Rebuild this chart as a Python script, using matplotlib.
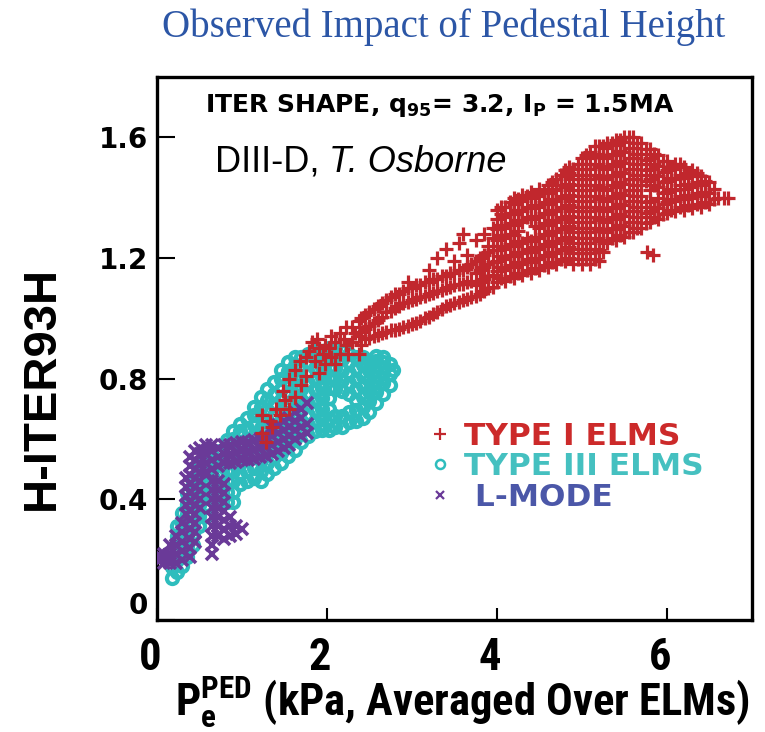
import numpy as np
import matplotlib
matplotlib.use('Agg')
import matplotlib.pyplot as plt
import matplotlib.transforms as mtransforms
from matplotlib.lines import Line2D
from matplotlib import font_manager as fm

# values: (pedestal pressure kPa, [H-factor values])
type1_cols = [
    # low end of the type I branch, mixed in with type III
    (1.24, [0.62, 0.68]), (1.28, [0.59]), (1.33, [0.66]), (1.36, [0.64]),
    (1.40, [0.70]), (1.45, [0.68]), (1.48, [0.76]), (1.51, [0.73]),
    (1.55, [0.70]), (1.56, [0.80]), (1.63, [0.74, 0.83]), (1.68, [0.86]),
    (1.70, [0.78]), (1.75, [0.81, 0.87]), (1.79, [0.89]), (1.83, [0.92]),
    (1.86, [0.86]), (1.88, [0.93]), (1.91, [0.82, 0.90]), (1.95, [0.88]),
    (1.98, [0.85, 0.91]), (2.02, [0.90]), (2.05, [0.87, 0.94]),
    (2.10, [0.85, 0.92]), (2.15, [0.88, 0.95]), (2.20, [0.93]),
    (2.22, [0.91, 0.97]), (2.25, [0.88]), (2.30, [0.92, 0.97]),
    (2.33, [0.95]), (2.38, [0.88, 0.94, 0.99]),
    # two strands
    (2.40, [0.91, 0.955, 1.00]), (2.45, [0.93, 0.965, 1.01]),
    (2.50, [0.935, 0.975, 1.02]), (2.55, [0.94, 0.985, 1.03]),
    (2.60, [0.945, 0.995, 1.04]), (2.65, [0.95, 1.005, 1.05]),
    (2.70, [0.955, 1.02, 1.06]), (2.75, [0.96, 1.025, 1.07]),
    (2.80, [0.96, 1.035, 1.08]), (2.85, [0.965, 1.04, 1.08]),
    (2.90, [0.97, 1.05, 1.09]), (2.95, [0.975, 1.055, 1.10, 1.12]),
    (3.00, [0.98, 1.06, 1.10]), (3.05, [0.985, 1.065, 1.11]),
    (3.10, [0.99, 1.07, 1.11]), (3.15, [1.00, 1.075, 1.12]),
    (3.20, [1.005, 1.08, 1.12, 1.16]), (3.25, [1.015, 1.085, 1.13]),
    (3.30, [1.02, 1.09, 1.13, 1.20]), (3.35, [1.03, 1.095, 1.14]),
    (3.40, [1.04, 1.10, 1.14, 1.23]), (3.45, [1.045, 1.105, 1.15]),
    (3.50, [1.05, 1.11, 1.15, 1.19]), (3.55, [1.055, 1.115, 1.16, 1.25]),
    (3.60, [1.06, 1.115, 1.16, 1.28]), (3.65, [1.065, 1.12, 1.17, 1.21]),
    (3.70, [1.07, 1.125, 1.18]), (3.75, [1.075, 1.11, 1.15, 1.19, 1.26]),
    (3.80, [1.08, 1.12, 1.16, 1.20]), (3.85, [1.09, 1.13, 1.17, 1.21, 1.28]),
    (3.90, [1.10, 1.14, 1.18, 1.22, 1.24]),
    (3.95, [1.105, 1.145, 1.185, 1.225, 1.265, 1.30]),
    # main cloud
    (4.00, [1.12, 1.155, 1.19, 1.225, 1.26, 1.295, 1.33, 1.36]),
    (4.05, [1.135, 1.17, 1.205, 1.24, 1.275, 1.31, 1.345, 1.37]),
    (4.10, [1.125, 1.16, 1.195, 1.23, 1.265, 1.30, 1.335, 1.37]),
    (4.15, [1.14, 1.175, 1.21, 1.245, 1.28, 1.315, 1.35, 1.385]),
    (4.20, [1.135, 1.17, 1.205, 1.24, 1.275, 1.31, 1.345, 1.38, 1.40]),
    (4.25, [1.15, 1.185, 1.22, 1.255, 1.29, 1.325, 1.36, 1.395]),
    (4.30, [1.145, 1.18, 1.215, 1.25, 1.32, 1.355, 1.39, 1.41]),
    (4.35, [1.16, 1.195, 1.23, 1.265, 1.335, 1.37, 1.405]),
    (4.40, [1.15, 1.185, 1.22, 1.255, 1.33, 1.365, 1.40, 1.42]),
    (4.45, [1.165, 1.20, 1.235, 1.27, 1.305, 1.34, 1.375, 1.41]),
    (4.50, [1.16, 1.195, 1.23, 1.265, 1.30, 1.335, 1.37, 1.405, 1.43]),
    (4.55, [1.175, 1.21, 1.245, 1.28, 1.315, 1.35, 1.385, 1.42]),
    (4.60, [1.17, 1.205, 1.24, 1.275, 1.31, 1.345, 1.38, 1.415, 1.44]),
    (4.65, [1.185, 1.22, 1.255, 1.29, 1.325, 1.36, 1.395, 1.43, 1.45]),
    (4.70, [1.18, 1.215, 1.25, 1.285, 1.32, 1.355, 1.39, 1.425, 1.46]),
    (4.75, [1.195, 1.23, 1.265, 1.30, 1.335, 1.37, 1.405, 1.44, 1.475]),
    (4.80, [1.19, 1.225, 1.26, 1.295, 1.33, 1.365, 1.40, 1.435, 1.47, 1.49]),
    (4.85, [1.20, 1.235, 1.27, 1.305, 1.34, 1.375, 1.41, 1.445, 1.48, 1.50]),
    (4.90, [1.18, 1.215, 1.25, 1.285, 1.32, 1.355, 1.39, 1.425, 1.46, 1.495]),
    (4.95, [1.195, 1.23, 1.265, 1.30, 1.335, 1.37, 1.405, 1.44, 1.475, 1.51]),
    (5.00, [1.18, 1.215, 1.25, 1.285, 1.32, 1.355, 1.39, 1.425, 1.46, 1.495, 1.53]),
    (5.05, [1.195, 1.23, 1.265, 1.30, 1.335, 1.37, 1.405, 1.44, 1.475, 1.51, 1.54]),
    (5.10, [1.18, 1.215, 1.25, 1.285, 1.32, 1.355, 1.39, 1.425, 1.46, 1.495, 1.53, 1.55]),
    (5.15, [1.195, 1.23, 1.265, 1.30, 1.335, 1.37, 1.405, 1.44, 1.475, 1.51, 1.545, 1.57]),
    (5.20, [1.19, 1.225, 1.26, 1.295, 1.33, 1.365, 1.40, 1.435, 1.47, 1.505, 1.54, 1.57]),
    (5.25, [1.22, 1.255, 1.29, 1.325, 1.36, 1.395, 1.43, 1.465, 1.50, 1.535, 1.57]),
    (5.30, [1.25, 1.285, 1.32, 1.355, 1.39, 1.425, 1.46, 1.495, 1.53, 1.565, 1.58]),
    (5.35, [1.265, 1.30, 1.335, 1.37, 1.405, 1.44, 1.475, 1.51, 1.545, 1.58]),
    (5.40, [1.26, 1.295, 1.33, 1.365, 1.40, 1.435, 1.47, 1.505, 1.54, 1.575, 1.59]),
    (5.45, [1.275, 1.31, 1.345, 1.38, 1.415, 1.45, 1.485, 1.52, 1.555, 1.59]),
    (5.50, [1.27, 1.305, 1.34, 1.375, 1.41, 1.445, 1.48, 1.515, 1.55, 1.585, 1.60]),
    (5.55, [1.285, 1.32, 1.355, 1.39, 1.425, 1.46, 1.495, 1.53, 1.565, 1.60]),
    (5.60, [1.285, 1.32, 1.355, 1.39, 1.425, 1.46, 1.495, 1.53, 1.565, 1.60]),
    (5.65, [1.30, 1.335, 1.37, 1.405, 1.44, 1.475, 1.51, 1.545, 1.58]),
    (5.70, [1.30, 1.335, 1.37, 1.405, 1.44, 1.475, 1.51, 1.545, 1.58]),
    (5.75, [1.315, 1.35, 1.385, 1.455, 1.49, 1.525, 1.56]),
    (5.77, [1.22]),
    (5.80, [1.32, 1.355, 1.39, 1.425, 1.46, 1.495, 1.53, 1.56]),
    (5.83, [1.21]),
    (5.85, [1.335, 1.37, 1.44, 1.475, 1.51, 1.545]),
    (5.90, [1.33, 1.365, 1.40, 1.435, 1.47, 1.505, 1.54]),
    (5.95, [1.345, 1.38, 1.415, 1.45, 1.485, 1.52]),
    (6.00, [1.35, 1.385, 1.42, 1.455, 1.49, 1.52]),
    (6.05, [1.36, 1.395, 1.43, 1.465, 1.50]),
    (6.10, [1.355, 1.39, 1.425, 1.46, 1.495, 1.51]),
    (6.15, [1.37, 1.405, 1.44, 1.475, 1.51]),
    (6.20, [1.36, 1.395, 1.43, 1.465, 1.50]),
    (6.25, [1.375, 1.41, 1.445, 1.48]),
    (6.30, [1.365, 1.40, 1.435, 1.47, 1.49]),
    (6.35, [1.38, 1.415, 1.45, 1.48]),
    (6.40, [1.37, 1.405, 1.44, 1.47]),
    (6.45, [1.385, 1.42, 1.455]),
    (6.50, [1.38, 1.415, 1.45]),
    (6.55, [1.395, 1.43]), (6.60, [1.40]), (6.67, [1.40]), (6.72, [1.40]),
]

type3_cols = [
    (0.18, [0.14, 0.175, 0.21]),
    (0.24, [0.16, 0.20, 0.24, 0.28, 0.31]),
    (0.30, [0.18, 0.215, 0.25, 0.285, 0.32, 0.355]),
    (0.36, [0.21, 0.245, 0.28, 0.315, 0.35, 0.385, 0.42]),
    (0.42, [0.25, 0.285, 0.32, 0.355, 0.39, 0.425, 0.46]),
    (0.50, [0.31, 0.345, 0.38, 0.415, 0.45, 0.485, 0.52]),
    (0.58, [0.345, 0.38, 0.415, 0.45, 0.485, 0.52, 0.55]),
    (0.66, [0.40, 0.435, 0.47, 0.505, 0.54]),
    (0.74, [0.42, 0.455, 0.49, 0.525, 0.56]),
    (0.82, [0.39, 0.425, 0.46, 0.495, 0.53, 0.565, 0.595]),
    (0.90, [0.39, 0.425, 0.46, 0.495, 0.53, 0.565, 0.60, 0.625]),
    (0.98, [0.45, 0.485, 0.52, 0.555, 0.59, 0.625, 0.65]),
    (1.06, [0.46, 0.495, 0.53, 0.565, 0.60, 0.635, 0.67]),
    (1.14, [0.47, 0.505, 0.54, 0.575, 0.61, 0.645, 0.68, 0.705]),
    (1.22, [0.46, 0.495, 0.53, 0.565, 0.60, 0.635, 0.67, 0.705, 0.74]),
    (1.30, [0.485, 0.52, 0.555, 0.59, 0.625, 0.66, 0.695, 0.73, 0.765]),
    (1.38, [0.505, 0.54, 0.575, 0.61, 0.645, 0.68, 0.715, 0.75, 0.79]),
    (1.46, [0.52, 0.555, 0.59, 0.625, 0.66, 0.695, 0.73, 0.765, 0.80, 0.83]),
    (1.54, [0.545, 0.58, 0.615, 0.65, 0.685, 0.72, 0.755, 0.79, 0.825, 0.855]),
    (1.62, [0.565, 0.60, 0.635, 0.67, 0.705, 0.74, 0.775, 0.81, 0.845, 0.87]),
    (1.70, [0.59, 0.625, 0.66, 0.695, 0.73, 0.765, 0.80, 0.835, 0.87]),
    (1.78, [0.61, 0.645, 0.68, 0.715, 0.75, 0.785, 0.82, 0.855, 0.88]),
    (1.86, [0.625, 0.66, 0.695, 0.73, 0.765, 0.80, 0.835, 0.87, 0.89]),
    (1.94, [0.63, 0.665, 0.70, 0.735, 0.77, 0.805, 0.84, 0.875, 0.89]),
    (2.02, [0.63, 0.665, 0.70, 0.735, 0.77, 0.805, 0.84, 0.875, 0.90]),
    (2.10, [0.64, 0.675, 0.765, 0.80, 0.835, 0.87, 0.90]),
    (2.18, [0.64, 0.675, 0.76, 0.795, 0.83, 0.865, 0.89]),
    (2.26, [0.655, 0.69, 0.75, 0.785, 0.82, 0.855, 0.88]),
    (2.34, [0.66, 0.695, 0.73, 0.765, 0.80, 0.835, 0.87]),
    (2.42, [0.67, 0.705, 0.74, 0.775, 0.81, 0.845, 0.87]),
    (2.50, [0.69, 0.725, 0.76, 0.795, 0.83, 0.86]),
    (2.58, [0.72, 0.755, 0.79, 0.825, 0.86, 0.875]),
    (2.66, [0.75, 0.785, 0.82, 0.855, 0.87]),
    (2.74, [0.78, 0.815, 0.85]),
    (2.78, [0.83]),
]

lmode_cols = [
    (0.02, [0.195, 0.215]),
    (0.09, [0.19, 0.22]),
    (0.16, [0.19, 0.22, 0.25]),
    (0.23, [0.19, 0.22, 0.25, 0.28]),
    (0.30, [0.20, 0.23, 0.26, 0.29, 0.32]),
    (0.34, [0.35, 0.38, 0.41, 0.44, 0.47]),
    (0.39, [0.21, 0.24, 0.27, 0.30, 0.33, 0.36, 0.39, 0.42, 0.45, 0.48, 0.51, 0.54]),
    (0.45, [0.26, 0.29, 0.32, 0.35, 0.38, 0.41, 0.44, 0.47, 0.50, 0.53, 0.56]),
    (0.51, [0.37, 0.40, 0.43, 0.46, 0.49, 0.52, 0.55, 0.57]),
    (0.58, [0.49, 0.52, 0.55, 0.58]),
    (0.65, [0.22, 0.25, 0.28, 0.31, 0.34, 0.37, 0.40, 0.43, 0.46, 0.50, 0.53, 0.56, 0.58]),
    (0.72, [0.28, 0.31, 0.34, 0.37, 0.40, 0.43, 0.46, 0.51, 0.54, 0.57]),
    (0.79, [0.27, 0.30, 0.33, 0.36, 0.39, 0.42, 0.45, 0.52, 0.55, 0.58]),
    (0.86, [0.28, 0.31, 0.34, 0.52, 0.55, 0.58]),
    (0.93, [0.285, 0.31, 0.525, 0.555, 0.585]),
    (1.00, [0.30, 0.53, 0.56, 0.59]),
    (1.07, [0.53, 0.56, 0.59]),
    (1.14, [0.535, 0.565, 0.595]),
    (1.21, [0.54, 0.57, 0.60]),
    (1.28, [0.545, 0.575, 0.605]),
    (1.35, [0.55, 0.58, 0.61, 0.64]),
    (1.42, [0.56, 0.59, 0.62, 0.645]),
    (1.49, [0.57, 0.60, 0.63, 0.66]),
    (1.56, [0.58, 0.61, 0.64, 0.67]),
    (1.63, [0.60, 0.63, 0.66, 0.69]),
    (1.70, [0.61, 0.64, 0.67, 0.70]),
    (1.77, [0.62, 0.65, 0.72]),
]

y_ticks = [0, 0.4, 0.8, 1.2, 1.6]
y_ticklabels = ['0', '0.4', '0.8', '1.2', '1.6']
x_ticks = [0, 2, 4, 6]
x_ticklabels = ['0', '2', '4', '6']


def unpack(cols):
    xs, ys = [], []
    for x, yy in cols:
        xs += [x] * len(yy)
        ys += list(yy)
    return np.array(xs), np.array(ys)


# pick a narrow bold face for the x axis if one is installed
avail = {f.name for f in fm.fontManager.ttflist}
narrow = next((n for n in ['Liberation Sans Narrow', 'Roboto Condensed',
                           'Open Sans Condensed', 'DejaVu Sans Condensed'] if n in avail), None)
if narrow:
    xfont, xtick_size, xlab_size = narrow, 32, 32
else:
    xfont, xtick_size, xlab_size = 'Liberation Sans', 29, 26

red = '#c1272d'
cyan = '#2ebdbd'
purple = '#6a3a98'

plt.rcParams['mathtext.fontset'] = 'custom'
plt.rcParams['mathtext.rm'] = xfont + ':bold'
plt.rcParams['mathtext.bf'] = 'DejaVu Sans:bold'

fig = plt.figure(figsize=(7.65, 7.32), dpi=100)
ax = fig.add_axes([0.205, 0.153, 0.778, 0.742])

x3, y3 = unpack(type3_cols)
xl, yl = unpack(lmode_cols)
x1, y1 = unpack(type1_cols)
ax.plot(x3, y3, 'o', ls='none', ms=8, mfc='none', mec=cyan, mew=3.0, zorder=2)
ax.plot(xl, yl, 'x', ls='none', ms=8, color=purple, mew=2.6, zorder=3)
ax.plot(x1, y1, '+', ls='none', ms=9.5, color=red, mew=2.3, zorder=4)

ax.set_xlim(0, 7)
ax.set_ylim(0, 1.8)
for s in ax.spines.values():
    s.set_linewidth(2.4)

ax.set_yticks(y_ticks)
ax.set_yticklabels(y_ticklabels, fontsize=20, fontweight='bold', family='DejaVu Sans')
ax.set_xticks(x_ticks)
ax.set_xticklabels(x_ticklabels, fontsize=xtick_size, fontweight='bold', family=xfont)
ax.tick_params(axis='y', direction='in', length=13, width=1.5, pad=6)
ax.tick_params(axis='x', direction='in', length=9, width=1.5, pad=12)
ax.get_yticklabels()[0].set_va('bottom')
shift = mtransforms.ScaledTranslation(-7 / 100, 0, fig.dpi_scale_trans)
for lab in ax.get_xticklabels():
    lab.set_transform(lab.get_transform() + shift)

ax.text(0.081, 0.935, r'ITER SHAPE, q$_\mathbf{95}$= 3.2, I$_\mathbf{P}$ = 1.5MA',
        transform=ax.transAxes, fontsize=18, fontweight='bold', family='DejaVu Sans',
        va='baseline')
t1 = ax.text(0.0975, 0.825, 'DIII-D,', transform=ax.transAxes, fontsize=26,
             family='Liberation Sans', va='baseline')
ax.annotate(' T. Osborne', xy=(1, 0), xycoords=t1, va='bottom', fontsize=26,
            family='Liberation Sans', style='italic')

handles = [
    Line2D([], [], marker='+', ls='none', color=red, ms=9, mew=1.6),
    Line2D([], [], marker='o', ls='none', mfc='none', mec=cyan, ms=6.5, mew=1.8),
    Line2D([], [], marker='x', ls='none', color=purple, ms=6, mew=1.6),
]
ax.legend(handles, ['TYPE I ELMS', 'TYPE III ELMS', ' L-MODE'],
          loc='upper left', bbox_to_anchor=(0.455, 0.365), frameon=False,
          borderpad=0, borderaxespad=0, handlelength=0.8, handletextpad=0.35,
          labelspacing=0.05, labelcolor=['#cc2a2a', '#45c0c0', '#4b57a8'],
          prop={'family': 'DejaVu Sans', 'weight': 'bold', 'size': 22.5})

fig.text(0.580, 0.963, 'Observed Impact of Pedestal Height', fontsize=28,
         family='Liberation Serif', color='#2c56a6', ha='center', va='center')
fig.text(0.055, 0.47, 'H-ITER93H', rotation=90, fontsize=34, fontweight='bold',
         family='Liberation Sans', ha='center', va='center')
fig.text(0.605, 0.022, r'P$_\mathrm{e}^\mathrm{PED}$ (kPa, Averaged Over ELMs)',
         fontsize=xlab_size, fontweight='bold', family=xfont,
         ha='center', va='baseline')

fig.savefig('out.png', dpi=100)
